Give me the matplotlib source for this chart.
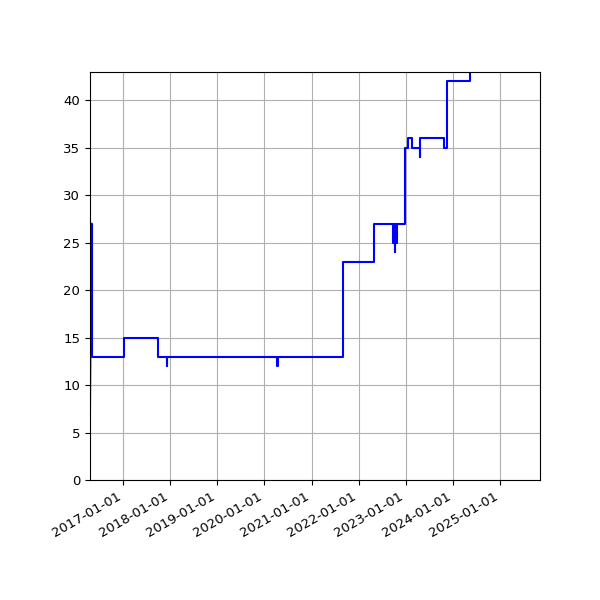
import datetime as dt
import matplotlib
matplotlib.use('Agg')
import matplotlib.pyplot as plt
import matplotlib.dates as mdates

# step change dates and the value held from that date on
dates = ['2016-04-16', '2016-04-30', '2016-05-06', '2017-01-05', '2017-09-28',
         '2017-12-04', '2017-12-10', '2020-04-06', '2020-04-12', '2021-09-01',
         '2022-04-28', '2022-09-24', '2022-10-01', '2022-10-06', '2022-10-09',
         '2022-10-13', '2022-10-20', '2022-10-27', '2022-11-08', '2022-12-25',
         '2023-01-19', '2023-02-15', '2023-04-18', '2023-04-24', '2023-10-23',
         '2023-11-14', '2024-05-11', '2024-12-31']
values = [0, 27, 13, 15, 13,
          12, 13, 12, 13, 23,
          27, 25, 27, 24, 25,
          27, 25, 27, 27, 35,
          36, 35, 34, 36, 35,
          42, 46, 46]

x = [dt.datetime.strptime(d, '%Y-%m-%d') for d in dates]

fig = plt.figure(figsize=(6, 6), dpi=100)
ax = fig.add_axes([0.15, 0.2, 0.75, 0.68])
# first ramp is a plain line, the rest are steps
ax.plot(x[:2], values[:2], color='blue')
ax.plot(x[1:], values[1:], color='blue', drawstyle='steps-post')
ax.set_xlim(dt.datetime(2016, 4, 20), dt.datetime(2025, 11, 6))
ax.set_ylim(0, 43)
ax.xaxis.set_major_locator(mdates.YearLocator())
ax.xaxis.set_major_formatter(mdates.DateFormatter('%Y-%m-%d'))
ax.grid(True)
ax.tick_params(labelsize=9.5)
for lab in ax.get_xticklabels():
    lab.set_rotation(30)
    lab.set_ha('right')

fig.savefig('out.png')
